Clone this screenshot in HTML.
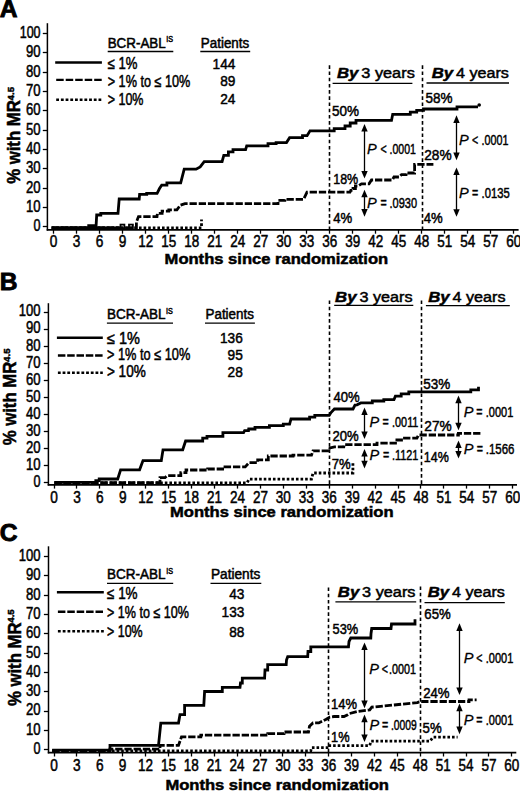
<!DOCTYPE html><html><head><meta charset="utf-8"><style>html,body{margin:0;padding:0;background:#fff;}svg{display:block;}text{font-family:"Liberation Sans",sans-serif;fill:#000;stroke:#000;stroke-width:0.5px;}</style></head><body>
<svg width="520" height="791" viewBox="0 0 520 791">
<rect width="520" height="791" fill="#fff"/>
<text x="-0.30" y="16.90" font-size="24.6" text-anchor="start" font-weight="bold" font-style="normal" style="stroke-width:0.9px">A</text>
<line x1="47.40" y1="23.20" x2="47.40" y2="230.60" stroke="#000" stroke-width="1.5"/>
<line x1="46.70" y1="229.90" x2="518.60" y2="229.90" stroke="#000" stroke-width="1.7"/>
<line x1="42.80" y1="226.50" x2="47.40" y2="226.50" stroke="#000" stroke-width="1.3"/>
<text x="40.60" y="231.25" font-size="16" text-anchor="end" font-weight="normal" font-style="normal" textLength="7.00" lengthAdjust="spacingAndGlyphs">0</text>
<line x1="42.80" y1="207.50" x2="47.40" y2="207.50" stroke="#000" stroke-width="1.3"/>
<text x="40.60" y="211.93" font-size="16" text-anchor="end" font-weight="normal" font-style="normal" textLength="14.60" lengthAdjust="spacingAndGlyphs">10</text>
<line x1="42.80" y1="188.50" x2="47.40" y2="188.50" stroke="#000" stroke-width="1.3"/>
<text x="40.60" y="192.60" font-size="16" text-anchor="end" font-weight="normal" font-style="normal" textLength="14.60" lengthAdjust="spacingAndGlyphs">20</text>
<line x1="42.80" y1="168.50" x2="47.40" y2="168.50" stroke="#000" stroke-width="1.3"/>
<text x="40.60" y="173.28" font-size="16" text-anchor="end" font-weight="normal" font-style="normal" textLength="14.60" lengthAdjust="spacingAndGlyphs">30</text>
<line x1="42.80" y1="149.50" x2="47.40" y2="149.50" stroke="#000" stroke-width="1.3"/>
<text x="40.60" y="153.95" font-size="16" text-anchor="end" font-weight="normal" font-style="normal" textLength="14.60" lengthAdjust="spacingAndGlyphs">40</text>
<line x1="42.80" y1="130.50" x2="47.40" y2="130.50" stroke="#000" stroke-width="1.3"/>
<text x="40.60" y="134.62" font-size="16" text-anchor="end" font-weight="normal" font-style="normal" textLength="14.60" lengthAdjust="spacingAndGlyphs">50</text>
<line x1="42.80" y1="110.50" x2="47.40" y2="110.50" stroke="#000" stroke-width="1.3"/>
<text x="40.60" y="115.30" font-size="16" text-anchor="end" font-weight="normal" font-style="normal" textLength="14.60" lengthAdjust="spacingAndGlyphs">60</text>
<line x1="42.80" y1="91.50" x2="47.40" y2="91.50" stroke="#000" stroke-width="1.3"/>
<text x="40.60" y="95.97" font-size="16" text-anchor="end" font-weight="normal" font-style="normal" textLength="14.60" lengthAdjust="spacingAndGlyphs">70</text>
<line x1="42.80" y1="72.50" x2="47.40" y2="72.50" stroke="#000" stroke-width="1.3"/>
<text x="40.60" y="76.65" font-size="16" text-anchor="end" font-weight="normal" font-style="normal" textLength="14.60" lengthAdjust="spacingAndGlyphs">80</text>
<line x1="42.80" y1="52.50" x2="47.40" y2="52.50" stroke="#000" stroke-width="1.3"/>
<text x="40.60" y="57.32" font-size="16" text-anchor="end" font-weight="normal" font-style="normal" textLength="14.60" lengthAdjust="spacingAndGlyphs">90</text>
<line x1="42.80" y1="33.50" x2="47.40" y2="33.50" stroke="#000" stroke-width="1.3"/>
<text x="40.60" y="38.00" font-size="16" text-anchor="end" font-weight="normal" font-style="normal" textLength="20.90" lengthAdjust="spacingAndGlyphs">100</text>
<line x1="53.50" y1="229.90" x2="53.50" y2="233.70" stroke="#000" stroke-width="1.3"/>
<text x="53.60" y="246.80" font-size="16" text-anchor="middle" font-weight="normal" font-style="normal" textLength="7.60" lengthAdjust="spacingAndGlyphs">0</text>
<line x1="76.50" y1="229.90" x2="76.50" y2="233.70" stroke="#000" stroke-width="1.3"/>
<text x="76.61" y="246.80" font-size="16" text-anchor="middle" font-weight="normal" font-style="normal" textLength="7.60" lengthAdjust="spacingAndGlyphs">3</text>
<line x1="99.50" y1="229.90" x2="99.50" y2="233.70" stroke="#000" stroke-width="1.3"/>
<text x="99.62" y="246.80" font-size="16" text-anchor="middle" font-weight="normal" font-style="normal" textLength="7.60" lengthAdjust="spacingAndGlyphs">6</text>
<line x1="122.50" y1="229.90" x2="122.50" y2="233.70" stroke="#000" stroke-width="1.3"/>
<text x="122.63" y="246.80" font-size="16" text-anchor="middle" font-weight="normal" font-style="normal" textLength="7.60" lengthAdjust="spacingAndGlyphs">9</text>
<line x1="145.50" y1="229.90" x2="145.50" y2="233.70" stroke="#000" stroke-width="1.3"/>
<text x="145.64" y="246.80" font-size="16" text-anchor="middle" font-weight="normal" font-style="normal" textLength="15.00" lengthAdjust="spacingAndGlyphs">12</text>
<line x1="168.50" y1="229.90" x2="168.50" y2="233.70" stroke="#000" stroke-width="1.3"/>
<text x="168.65" y="246.80" font-size="16" text-anchor="middle" font-weight="normal" font-style="normal" textLength="15.00" lengthAdjust="spacingAndGlyphs">15</text>
<line x1="191.50" y1="229.90" x2="191.50" y2="233.70" stroke="#000" stroke-width="1.3"/>
<text x="191.66" y="246.80" font-size="16" text-anchor="middle" font-weight="normal" font-style="normal" textLength="15.00" lengthAdjust="spacingAndGlyphs">18</text>
<line x1="214.50" y1="229.90" x2="214.50" y2="233.70" stroke="#000" stroke-width="1.3"/>
<text x="214.67" y="246.80" font-size="16" text-anchor="middle" font-weight="normal" font-style="normal" textLength="15.00" lengthAdjust="spacingAndGlyphs">21</text>
<line x1="237.50" y1="229.90" x2="237.50" y2="233.70" stroke="#000" stroke-width="1.3"/>
<text x="237.68" y="246.80" font-size="16" text-anchor="middle" font-weight="normal" font-style="normal" textLength="15.00" lengthAdjust="spacingAndGlyphs">24</text>
<line x1="260.50" y1="229.90" x2="260.50" y2="233.70" stroke="#000" stroke-width="1.3"/>
<text x="260.69" y="246.80" font-size="16" text-anchor="middle" font-weight="normal" font-style="normal" textLength="15.00" lengthAdjust="spacingAndGlyphs">27</text>
<line x1="283.50" y1="229.90" x2="283.50" y2="233.70" stroke="#000" stroke-width="1.3"/>
<text x="283.70" y="246.80" font-size="16" text-anchor="middle" font-weight="normal" font-style="normal" textLength="15.00" lengthAdjust="spacingAndGlyphs">30</text>
<line x1="306.50" y1="229.90" x2="306.50" y2="233.70" stroke="#000" stroke-width="1.3"/>
<text x="306.71" y="246.80" font-size="16" text-anchor="middle" font-weight="normal" font-style="normal" textLength="15.00" lengthAdjust="spacingAndGlyphs">33</text>
<line x1="329.50" y1="229.90" x2="329.50" y2="233.70" stroke="#000" stroke-width="1.3"/>
<text x="329.72" y="246.80" font-size="16" text-anchor="middle" font-weight="normal" font-style="normal" textLength="15.00" lengthAdjust="spacingAndGlyphs">36</text>
<line x1="352.50" y1="229.90" x2="352.50" y2="233.70" stroke="#000" stroke-width="1.3"/>
<text x="352.73" y="246.80" font-size="16" text-anchor="middle" font-weight="normal" font-style="normal" textLength="15.00" lengthAdjust="spacingAndGlyphs">39</text>
<line x1="375.50" y1="229.90" x2="375.50" y2="233.70" stroke="#000" stroke-width="1.3"/>
<text x="375.74" y="246.80" font-size="16" text-anchor="middle" font-weight="normal" font-style="normal" textLength="15.00" lengthAdjust="spacingAndGlyphs">42</text>
<line x1="398.50" y1="229.90" x2="398.50" y2="233.70" stroke="#000" stroke-width="1.3"/>
<text x="398.75" y="246.80" font-size="16" text-anchor="middle" font-weight="normal" font-style="normal" textLength="15.00" lengthAdjust="spacingAndGlyphs">45</text>
<line x1="421.50" y1="229.90" x2="421.50" y2="233.70" stroke="#000" stroke-width="1.3"/>
<text x="421.76" y="246.80" font-size="16" text-anchor="middle" font-weight="normal" font-style="normal" textLength="15.00" lengthAdjust="spacingAndGlyphs">48</text>
<line x1="444.50" y1="229.90" x2="444.50" y2="233.70" stroke="#000" stroke-width="1.3"/>
<text x="444.77" y="246.80" font-size="16" text-anchor="middle" font-weight="normal" font-style="normal" textLength="15.00" lengthAdjust="spacingAndGlyphs">51</text>
<line x1="467.50" y1="229.90" x2="467.50" y2="233.70" stroke="#000" stroke-width="1.3"/>
<text x="467.78" y="246.80" font-size="16" text-anchor="middle" font-weight="normal" font-style="normal" textLength="15.00" lengthAdjust="spacingAndGlyphs">54</text>
<line x1="490.50" y1="229.90" x2="490.50" y2="233.70" stroke="#000" stroke-width="1.3"/>
<text x="490.79" y="246.80" font-size="16" text-anchor="middle" font-weight="normal" font-style="normal" textLength="15.00" lengthAdjust="spacingAndGlyphs">57</text>
<line x1="513.50" y1="229.90" x2="513.50" y2="233.70" stroke="#000" stroke-width="1.3"/>
<text x="513.80" y="246.80" font-size="16" text-anchor="middle" font-weight="normal" font-style="normal" textLength="15.00" lengthAdjust="spacingAndGlyphs">60</text>
<text x="164.60" y="263.80" font-size="15" text-anchor="start" font-weight="bold" font-style="normal" textLength="223.60" lengthAdjust="spacingAndGlyphs">Months since randomization</text>
<text transform="translate(19.70,183.80) rotate(-90)" font-size="17.5" font-weight="bold" textLength="83.6" lengthAdjust="spacingAndGlyphs">% with MR</text>
<text transform="translate(13.60,100.40) rotate(-90)" font-size="9.6" font-weight="bold" textLength="13.4" lengthAdjust="spacingAndGlyphs">4.5</text>
<text x="107.70" y="47.60" font-size="13.8" text-anchor="start" font-weight="normal" font-style="normal" textLength="58.00" lengthAdjust="spacingAndGlyphs">BCR-ABL</text>
<text x="166.30" y="42.20" font-size="8.4" text-anchor="start" font-weight="normal" font-style="normal" textLength="6.80" lengthAdjust="spacingAndGlyphs">IS</text>
<line x1="107.70" y1="51.50" x2="173.30" y2="51.50" stroke="#000" stroke-width="1.3"/>
<text x="200.80" y="47.60" font-size="13.8" text-anchor="start" font-weight="normal" font-style="normal" textLength="48.40" lengthAdjust="spacingAndGlyphs">Patients</text>
<line x1="200.30" y1="51.50" x2="250.20" y2="51.50" stroke="#000" stroke-width="1.3"/>
<line x1="55.20" y1="62.50" x2="101.90" y2="62.50" stroke="#000" stroke-width="2.4"/>
<line x1="56.20" y1="79.90" x2="101.90" y2="79.90" stroke="#000" stroke-width="2.4" stroke-dasharray="7.5,2.0"/>
<line x1="56.20" y1="99.70" x2="101.90" y2="99.70" stroke="#000" stroke-width="2.4" stroke-dasharray="2.8,1.9"/>
<text x="107.70" y="69.40" font-size="16" text-anchor="start" font-weight="normal" font-style="normal" textLength="29.80" lengthAdjust="spacingAndGlyphs">≤ 1%</text>
<text x="235.40" y="69.00" font-size="15.3" text-anchor="end" font-weight="normal" font-style="normal" textLength="22.80" lengthAdjust="spacingAndGlyphs">144</text>
<text x="107.70" y="86.70" font-size="16" text-anchor="start" font-weight="normal" font-style="normal" textLength="82.60" lengthAdjust="spacingAndGlyphs">&gt; 1% to ≤ 10%</text>
<text x="235.40" y="86.30" font-size="15.3" text-anchor="end" font-weight="normal" font-style="normal" textLength="15.20" lengthAdjust="spacingAndGlyphs">89</text>
<text x="107.70" y="104.80" font-size="16" text-anchor="start" font-weight="normal" font-style="normal" textLength="35.80" lengthAdjust="spacingAndGlyphs">&gt; 10%</text>
<text x="235.40" y="104.40" font-size="15.3" text-anchor="end" font-weight="normal" font-style="normal" textLength="15.20" lengthAdjust="spacingAndGlyphs">24</text>
<text x="337.00" y="77.90" font-size="15.4" font-weight="bold" font-style="italic" textLength="21.4" lengthAdjust="spacingAndGlyphs">By</text>
<text x="361.30" y="77.90" font-size="15.4" textLength="53.50" lengthAdjust="spacingAndGlyphs">3 years</text>
<line x1="332.60" y1="83.30" x2="412.40" y2="83.30" stroke="#000" stroke-width="1.3"/>
<text x="431.70" y="77.90" font-size="15.4" font-weight="bold" font-style="italic" textLength="21.4" lengthAdjust="spacingAndGlyphs">By</text>
<text x="456.00" y="77.90" font-size="15.4" textLength="52.90" lengthAdjust="spacingAndGlyphs">4 years</text>
<line x1="426.50" y1="83.00" x2="509.00" y2="83.00" stroke="#000" stroke-width="1.3"/>
<line x1="329.50" y1="65.30" x2="329.50" y2="229.90" stroke="#000" stroke-width="1.6" stroke-dasharray="3.6,2.6"/>
<line x1="422.50" y1="65.30" x2="422.50" y2="229.90" stroke="#000" stroke-width="1.6" stroke-dasharray="3.6,2.6"/>
<polyline points="51.6,227.6 88.7,227.6 88.7,225.6 96.1,225.6 96.7,215.0 100.8,215.0 100.8,213.4 118.0,213.4 119.2,199.0 139.2,199.0 139.6,194.4 146.7,194.4 146.7,193.3 157.1,193.3 159.5,188.5 161.7,185.2 166.9,185.2 166.9,182.9 180.7,182.9 184.2,169.2 196.1,169.2 200.2,166.9 204.2,161.7 222.1,161.7 223.8,155.4 228.4,155.4 228.4,151.9 233.0,151.9 233.0,149.7 245.6,149.7 246.7,145.9 268.0,145.9 268.0,143.6 276.1,143.6 276.1,142.6 286.5,142.6 289.6,137.7 302.5,137.7 302.5,135.6 307.1,135.6 310.0,130.8 334.2,130.8 334.2,128.6 345.0,128.6 345.0,126.0 350.2,126.0 350.2,123.0 356.0,123.0 356.0,120.4 391.5,120.4 392.7,114.3 410.3,114.3 410.3,112.2 416.7,112.2 416.7,110.4 423.5,110.4 423.5,109.0 457.0,109.0 457.0,106.8 478.0,106.8" fill="none" stroke="#000" stroke-width="2.8" stroke-linejoin="miter" stroke-linecap="butt"/>
<circle cx="479.2" cy="105.0" r="1.8" fill="#000"/>
<polyline points="88.0,227.8 119.6,227.8" fill="none" stroke="#000" stroke-width="2.8" stroke-linejoin="miter" stroke-linecap="butt"/>
<polyline points="51.6,227.8 119.6,227.8 119.6,227.8 136.4,227.8 136.4,222.0 138.5,216.6 157.0,216.6 157.4,213.3 162.1,213.3 162.1,211.2 168.8,211.2 168.8,209.9 176.9,209.9 180.3,205.2 185.0,203.6 278.0,203.6 278.1,200.4 284.8,200.4 284.8,199.3 303.6,199.3 307.0,192.2 350.0,192.2 350.8,190.3 353.0,190.3 353.0,188.5 355.4,188.5 355.4,186.0 358.0,186.0 361.5,183.8 369.0,183.8 371.5,180.0 392.3,180.0 394.0,177.0 399.0,177.0 401.5,174.6 406.0,174.6 406.0,173.0 414.6,173.0 414.6,164.4 433.4,164.4" fill="none" stroke="#000" stroke-width="2.8" stroke-linejoin="miter" stroke-linecap="butt" stroke-dasharray="7.3,1.9"/>
<rect x="120.5" y="224.6" width="3.9" height="3.6" fill="none" stroke="#000" stroke-width="1.8"/>
<rect x="129.0" y="224.6" width="3.9" height="3.6" fill="none" stroke="#000" stroke-width="1.8"/>
<polyline points="51.6,227.8 201.5,227.8 201.5,219.5" fill="none" stroke="#000" stroke-width="2.8" stroke-linejoin="miter" stroke-linecap="butt" stroke-dasharray="2.6,2.0"/>
<text x="332.00" y="116.40" font-size="15.4" text-anchor="start" font-weight="normal" font-style="normal" textLength="27.00" lengthAdjust="spacingAndGlyphs">50%</text>
<text x="425.60" y="103.00" font-size="15.4" text-anchor="start" font-weight="normal" font-style="normal" textLength="27.00" lengthAdjust="spacingAndGlyphs">58%</text>
<text x="333.20" y="183.80" font-size="15.4" text-anchor="start" font-weight="normal" font-style="normal" textLength="25.00" lengthAdjust="spacingAndGlyphs">18%</text>
<text x="424.20" y="159.90" font-size="15.4" text-anchor="start" font-weight="normal" font-style="normal" textLength="27.40" lengthAdjust="spacingAndGlyphs">28%</text>
<text x="333.20" y="223.10" font-size="15.4" text-anchor="start" font-weight="normal" font-style="normal" textLength="19.00" lengthAdjust="spacingAndGlyphs">4%</text>
<text x="423.80" y="223.10" font-size="15.4" text-anchor="start" font-weight="normal" font-style="normal" textLength="19.00" lengthAdjust="spacingAndGlyphs">4%</text>
<line x1="364.50" y1="130.60" x2="364.50" y2="172.00" stroke="#000" stroke-width="1.3"/>
<polygon points="364.50,124.00 361.30,131.60 367.70,131.60" fill="#000"/>
<polygon points="364.50,178.60 361.30,171.00 367.70,171.00" fill="#000"/>
<line x1="364.50" y1="196.30" x2="364.50" y2="210.10" stroke="#000" stroke-width="1.3"/>
<polygon points="364.50,189.70 361.30,197.30 367.70,197.30" fill="#000"/>
<polygon points="364.50,216.70 361.30,209.10 367.70,209.10" fill="#000"/>
<line x1="456.50" y1="121.90" x2="456.50" y2="153.60" stroke="#000" stroke-width="1.3"/>
<polygon points="456.50,115.30 453.30,122.90 459.70,122.90" fill="#000"/>
<polygon points="456.50,160.20 453.30,152.60 459.70,152.60" fill="#000"/>
<line x1="456.50" y1="174.10" x2="456.50" y2="210.20" stroke="#000" stroke-width="1.3"/>
<polygon points="456.50,167.50 453.30,175.10 459.70,175.10" fill="#000"/>
<polygon points="456.50,216.80 453.30,209.20 459.70,209.20" fill="#000"/>
<text x="-0.30" y="289.60" font-size="24.6" text-anchor="start" font-weight="bold" font-style="normal" style="stroke-width:0.9px">B</text>
<line x1="48.40" y1="303.20" x2="48.40" y2="485.50" stroke="#000" stroke-width="1.5"/>
<line x1="47.70" y1="484.80" x2="517.00" y2="484.80" stroke="#000" stroke-width="1.7"/>
<line x1="43.80" y1="482.50" x2="48.40" y2="482.50" stroke="#000" stroke-width="1.3"/>
<text x="40.60" y="487.10" font-size="16" text-anchor="end" font-weight="normal" font-style="normal" textLength="7.00" lengthAdjust="spacingAndGlyphs">0</text>
<line x1="43.80" y1="465.50" x2="48.40" y2="465.50" stroke="#000" stroke-width="1.3"/>
<text x="40.60" y="470.03" font-size="16" text-anchor="end" font-weight="normal" font-style="normal" textLength="14.60" lengthAdjust="spacingAndGlyphs">10</text>
<line x1="43.80" y1="448.50" x2="48.40" y2="448.50" stroke="#000" stroke-width="1.3"/>
<text x="40.60" y="452.96" font-size="16" text-anchor="end" font-weight="normal" font-style="normal" textLength="14.60" lengthAdjust="spacingAndGlyphs">20</text>
<line x1="43.80" y1="431.50" x2="48.40" y2="431.50" stroke="#000" stroke-width="1.3"/>
<text x="40.60" y="435.89" font-size="16" text-anchor="end" font-weight="normal" font-style="normal" textLength="14.60" lengthAdjust="spacingAndGlyphs">30</text>
<line x1="43.80" y1="414.50" x2="48.40" y2="414.50" stroke="#000" stroke-width="1.3"/>
<text x="40.60" y="418.82" font-size="16" text-anchor="end" font-weight="normal" font-style="normal" textLength="14.60" lengthAdjust="spacingAndGlyphs">40</text>
<line x1="43.80" y1="397.50" x2="48.40" y2="397.50" stroke="#000" stroke-width="1.3"/>
<text x="40.60" y="401.75" font-size="16" text-anchor="end" font-weight="normal" font-style="normal" textLength="14.60" lengthAdjust="spacingAndGlyphs">50</text>
<line x1="43.80" y1="380.50" x2="48.40" y2="380.50" stroke="#000" stroke-width="1.3"/>
<text x="40.60" y="384.68" font-size="16" text-anchor="end" font-weight="normal" font-style="normal" textLength="14.60" lengthAdjust="spacingAndGlyphs">60</text>
<line x1="43.80" y1="363.50" x2="48.40" y2="363.50" stroke="#000" stroke-width="1.3"/>
<text x="40.60" y="367.61" font-size="16" text-anchor="end" font-weight="normal" font-style="normal" textLength="14.60" lengthAdjust="spacingAndGlyphs">70</text>
<line x1="43.80" y1="346.50" x2="48.40" y2="346.50" stroke="#000" stroke-width="1.3"/>
<text x="40.60" y="350.54" font-size="16" text-anchor="end" font-weight="normal" font-style="normal" textLength="14.60" lengthAdjust="spacingAndGlyphs">80</text>
<line x1="43.80" y1="329.50" x2="48.40" y2="329.50" stroke="#000" stroke-width="1.3"/>
<text x="40.60" y="333.47" font-size="16" text-anchor="end" font-weight="normal" font-style="normal" textLength="14.60" lengthAdjust="spacingAndGlyphs">90</text>
<line x1="43.80" y1="312.50" x2="48.40" y2="312.50" stroke="#000" stroke-width="1.3"/>
<text x="40.60" y="316.40" font-size="16" text-anchor="end" font-weight="normal" font-style="normal" textLength="21.80" lengthAdjust="spacingAndGlyphs">100</text>
<line x1="54.50" y1="484.80" x2="54.50" y2="488.60" stroke="#000" stroke-width="1.3"/>
<text x="54.00" y="502.50" font-size="16" text-anchor="middle" font-weight="normal" font-style="normal" textLength="7.60" lengthAdjust="spacingAndGlyphs">0</text>
<line x1="76.50" y1="484.80" x2="76.50" y2="488.60" stroke="#000" stroke-width="1.3"/>
<text x="76.94" y="502.50" font-size="16" text-anchor="middle" font-weight="normal" font-style="normal" textLength="7.60" lengthAdjust="spacingAndGlyphs">3</text>
<line x1="99.50" y1="484.80" x2="99.50" y2="488.60" stroke="#000" stroke-width="1.3"/>
<text x="99.87" y="502.50" font-size="16" text-anchor="middle" font-weight="normal" font-style="normal" textLength="7.60" lengthAdjust="spacingAndGlyphs">6</text>
<line x1="122.50" y1="484.80" x2="122.50" y2="488.60" stroke="#000" stroke-width="1.3"/>
<text x="122.80" y="502.50" font-size="16" text-anchor="middle" font-weight="normal" font-style="normal" textLength="7.60" lengthAdjust="spacingAndGlyphs">9</text>
<line x1="145.50" y1="484.80" x2="145.50" y2="488.60" stroke="#000" stroke-width="1.3"/>
<text x="145.74" y="502.50" font-size="16" text-anchor="middle" font-weight="normal" font-style="normal" textLength="15.00" lengthAdjust="spacingAndGlyphs">12</text>
<line x1="168.50" y1="484.80" x2="168.50" y2="488.60" stroke="#000" stroke-width="1.3"/>
<text x="168.68" y="502.50" font-size="16" text-anchor="middle" font-weight="normal" font-style="normal" textLength="15.00" lengthAdjust="spacingAndGlyphs">15</text>
<line x1="191.50" y1="484.80" x2="191.50" y2="488.60" stroke="#000" stroke-width="1.3"/>
<text x="191.61" y="502.50" font-size="16" text-anchor="middle" font-weight="normal" font-style="normal" textLength="15.00" lengthAdjust="spacingAndGlyphs">18</text>
<line x1="214.50" y1="484.80" x2="214.50" y2="488.60" stroke="#000" stroke-width="1.3"/>
<text x="214.54" y="502.50" font-size="16" text-anchor="middle" font-weight="normal" font-style="normal" textLength="15.00" lengthAdjust="spacingAndGlyphs">21</text>
<line x1="237.50" y1="484.80" x2="237.50" y2="488.60" stroke="#000" stroke-width="1.3"/>
<text x="237.48" y="502.50" font-size="16" text-anchor="middle" font-weight="normal" font-style="normal" textLength="15.00" lengthAdjust="spacingAndGlyphs">24</text>
<line x1="260.50" y1="484.80" x2="260.50" y2="488.60" stroke="#000" stroke-width="1.3"/>
<text x="260.41" y="502.50" font-size="16" text-anchor="middle" font-weight="normal" font-style="normal" textLength="15.00" lengthAdjust="spacingAndGlyphs">27</text>
<line x1="283.50" y1="484.80" x2="283.50" y2="488.60" stroke="#000" stroke-width="1.3"/>
<text x="283.35" y="502.50" font-size="16" text-anchor="middle" font-weight="normal" font-style="normal" textLength="15.00" lengthAdjust="spacingAndGlyphs">30</text>
<line x1="306.50" y1="484.80" x2="306.50" y2="488.60" stroke="#000" stroke-width="1.3"/>
<text x="306.28" y="502.50" font-size="16" text-anchor="middle" font-weight="normal" font-style="normal" textLength="15.00" lengthAdjust="spacingAndGlyphs">33</text>
<line x1="329.50" y1="484.80" x2="329.50" y2="488.60" stroke="#000" stroke-width="1.3"/>
<text x="329.22" y="502.50" font-size="16" text-anchor="middle" font-weight="normal" font-style="normal" textLength="15.00" lengthAdjust="spacingAndGlyphs">36</text>
<line x1="352.50" y1="484.80" x2="352.50" y2="488.60" stroke="#000" stroke-width="1.3"/>
<text x="352.15" y="502.50" font-size="16" text-anchor="middle" font-weight="normal" font-style="normal" textLength="15.00" lengthAdjust="spacingAndGlyphs">39</text>
<line x1="375.50" y1="484.80" x2="375.50" y2="488.60" stroke="#000" stroke-width="1.3"/>
<text x="375.09" y="502.50" font-size="16" text-anchor="middle" font-weight="normal" font-style="normal" textLength="15.00" lengthAdjust="spacingAndGlyphs">42</text>
<line x1="398.50" y1="484.80" x2="398.50" y2="488.60" stroke="#000" stroke-width="1.3"/>
<text x="398.02" y="502.50" font-size="16" text-anchor="middle" font-weight="normal" font-style="normal" textLength="15.00" lengthAdjust="spacingAndGlyphs">45</text>
<line x1="420.50" y1="484.80" x2="420.50" y2="488.60" stroke="#000" stroke-width="1.3"/>
<text x="420.96" y="502.50" font-size="16" text-anchor="middle" font-weight="normal" font-style="normal" textLength="15.00" lengthAdjust="spacingAndGlyphs">48</text>
<line x1="443.50" y1="484.80" x2="443.50" y2="488.60" stroke="#000" stroke-width="1.3"/>
<text x="443.89" y="502.50" font-size="16" text-anchor="middle" font-weight="normal" font-style="normal" textLength="15.00" lengthAdjust="spacingAndGlyphs">51</text>
<line x1="466.50" y1="484.80" x2="466.50" y2="488.60" stroke="#000" stroke-width="1.3"/>
<text x="466.83" y="502.50" font-size="16" text-anchor="middle" font-weight="normal" font-style="normal" textLength="15.00" lengthAdjust="spacingAndGlyphs">54</text>
<line x1="489.50" y1="484.80" x2="489.50" y2="488.60" stroke="#000" stroke-width="1.3"/>
<text x="489.76" y="502.50" font-size="16" text-anchor="middle" font-weight="normal" font-style="normal" textLength="15.00" lengthAdjust="spacingAndGlyphs">57</text>
<line x1="512.50" y1="484.80" x2="512.50" y2="488.60" stroke="#000" stroke-width="1.3"/>
<text x="512.70" y="502.50" font-size="16" text-anchor="middle" font-weight="normal" font-style="normal" textLength="15.00" lengthAdjust="spacingAndGlyphs">60</text>
<text x="170.00" y="516.80" font-size="15" text-anchor="start" font-weight="bold" font-style="normal" textLength="223.60" lengthAdjust="spacingAndGlyphs">Months since randomization</text>
<text transform="translate(15.90,445.30) rotate(-90)" font-size="17.5" font-weight="bold" textLength="83.6" lengthAdjust="spacingAndGlyphs">% with MR</text>
<text transform="translate(9.80,361.90) rotate(-90)" font-size="9.6" font-weight="bold" textLength="13.4" lengthAdjust="spacingAndGlyphs">4.5</text>
<text x="106.90" y="319.30" font-size="13.8" text-anchor="start" font-weight="normal" font-style="normal" textLength="58.50" lengthAdjust="spacingAndGlyphs">BCR-ABL</text>
<text x="166.00" y="313.90" font-size="8.4" text-anchor="start" font-weight="normal" font-style="normal" textLength="6.80" lengthAdjust="spacingAndGlyphs">IS</text>
<line x1="106.90" y1="323.10" x2="173.00" y2="323.10" stroke="#000" stroke-width="1.3"/>
<text x="205.50" y="319.30" font-size="13.8" text-anchor="start" font-weight="normal" font-style="normal" textLength="48.40" lengthAdjust="spacingAndGlyphs">Patients</text>
<line x1="205.00" y1="323.10" x2="254.90" y2="323.10" stroke="#000" stroke-width="1.3"/>
<line x1="56.90" y1="337.70" x2="102.80" y2="337.70" stroke="#000" stroke-width="2.4"/>
<line x1="57.90" y1="355.50" x2="102.80" y2="355.50" stroke="#000" stroke-width="2.4" stroke-dasharray="7.5,1.8"/>
<line x1="57.90" y1="372.80" x2="102.80" y2="372.80" stroke="#000" stroke-width="2.4" stroke-dasharray="2.8,1.9"/>
<text x="106.90" y="343.50" font-size="16" text-anchor="start" font-weight="normal" font-style="normal" textLength="33.00" lengthAdjust="spacingAndGlyphs">≤ 1%</text>
<text x="242.80" y="343.10" font-size="15.3" text-anchor="end" font-weight="normal" font-style="normal" textLength="22.80" lengthAdjust="spacingAndGlyphs">136</text>
<text x="106.90" y="360.40" font-size="16" text-anchor="start" font-weight="normal" font-style="normal" textLength="83.40" lengthAdjust="spacingAndGlyphs">&gt; 1% to ≤ 10%</text>
<text x="242.80" y="360.00" font-size="15.3" text-anchor="end" font-weight="normal" font-style="normal" textLength="15.20" lengthAdjust="spacingAndGlyphs">95</text>
<text x="106.90" y="377.30" font-size="16" text-anchor="start" font-weight="normal" font-style="normal" textLength="38.90" lengthAdjust="spacingAndGlyphs">&gt; 10%</text>
<text x="242.80" y="376.90" font-size="15.3" text-anchor="end" font-weight="normal" font-style="normal" textLength="15.20" lengthAdjust="spacingAndGlyphs">28</text>
<text x="335.10" y="301.60" font-size="15.4" font-weight="bold" font-style="italic" textLength="21.4" lengthAdjust="spacingAndGlyphs">By</text>
<text x="359.40" y="301.60" font-size="15.4" textLength="53.10" lengthAdjust="spacingAndGlyphs">3 years</text>
<line x1="334.20" y1="305.30" x2="413.30" y2="305.30" stroke="#000" stroke-width="1.3"/>
<text x="428.20" y="301.60" font-size="15.4" font-weight="bold" font-style="italic" textLength="21.4" lengthAdjust="spacingAndGlyphs">By</text>
<text x="452.50" y="301.60" font-size="15.4" textLength="53.10" lengthAdjust="spacingAndGlyphs">4 years</text>
<line x1="425.90" y1="305.60" x2="509.80" y2="305.60" stroke="#000" stroke-width="1.3"/>
<line x1="329.50" y1="300.50" x2="329.50" y2="484.60" stroke="#000" stroke-width="1.6" stroke-dasharray="3.6,2.6"/>
<line x1="421.50" y1="300.50" x2="421.50" y2="484.60" stroke="#000" stroke-width="1.6" stroke-dasharray="3.6,2.6"/>
<polyline points="54.4,482.3 95.8,482.3 95.8,480.7 99.2,480.7 99.2,479.0 117.7,479.0 120.6,469.8 139.6,469.8 143.0,460.6 161.3,460.6 163.0,449.8 182.7,449.8 185.6,441.0 202.7,441.0 202.7,438.1 207.0,438.1 207.0,436.3 222.9,436.3 222.9,432.6 243.6,432.6 244.6,430.7 248.5,430.7 248.7,429.0 255.0,429.0 255.0,427.3 269.4,427.3 269.4,425.6 283.3,425.6 283.3,424.2 289.6,424.2 291.0,419.0 309.6,419.0 309.6,417.1 314.8,417.1 314.8,415.4 329.2,415.4 331.0,412.5 334.4,409.0 353.0,409.0 355.0,405.0 357.0,404.8 360.8,402.9 372.3,402.9 372.3,401.0 383.8,401.0 383.8,399.6 394.0,399.6 395.4,396.2 401.2,396.2 401.2,393.8 408.8,393.8 408.8,391.8 470.8,391.8 470.8,389.8 478.5,389.8 478.5,386.8" fill="none" stroke="#000" stroke-width="2.8" stroke-linejoin="miter" stroke-linecap="butt"/>
<polyline points="54.4,482.7 160.0,482.7 160.0,477.7 165.0,477.7 167.0,475.7 180.8,475.7 180.8,472.6 186.0,472.6 186.0,470.0 207.7,470.0 207.7,469.0 225.0,469.0 225.0,466.9 245.2,466.9 249.0,462.7 257.7,462.7 257.7,459.8 268.3,459.8 268.3,456.0 293.0,456.0 293.0,455.2 311.5,455.2 313.0,450.8 329.2,450.8 330.0,448.0 334.6,446.9 343.8,446.9 344.2,444.7 377.0,444.7 377.0,443.1 396.9,443.1 396.9,440.0 401.5,440.0 401.5,438.2 416.9,438.2 418.5,435.0 458.4,435.0 458.4,433.4 481.7,433.4" fill="none" stroke="#000" stroke-width="2.8" stroke-linejoin="miter" stroke-linecap="butt" stroke-dasharray="7.3,1.9"/>
<polyline points="54.4,482.8 247.1,482.8 249.0,479.1 311.5,479.1 313.0,473.0 352.9,473.0 352.9,462.5" fill="none" stroke="#000" stroke-width="2.8" stroke-linejoin="miter" stroke-linecap="butt" stroke-dasharray="2.6,2.0"/>
<text x="333.40" y="402.30" font-size="15.4" text-anchor="start" font-weight="normal" font-style="normal" textLength="26.20" lengthAdjust="spacingAndGlyphs">40%</text>
<text x="423.30" y="389.20" font-size="15.4" text-anchor="start" font-weight="normal" font-style="normal" textLength="27.00" lengthAdjust="spacingAndGlyphs">53%</text>
<text x="332.40" y="440.80" font-size="15.4" text-anchor="start" font-weight="normal" font-style="normal" textLength="26.20" lengthAdjust="spacingAndGlyphs">20%</text>
<text x="424.30" y="430.70" font-size="15.4" text-anchor="start" font-weight="normal" font-style="normal" textLength="27.40" lengthAdjust="spacingAndGlyphs">27%</text>
<text x="331.80" y="469.30" font-size="15.4" text-anchor="start" font-weight="normal" font-style="normal" textLength="19.00" lengthAdjust="spacingAndGlyphs">7%</text>
<text x="423.80" y="461.50" font-size="15.4" text-anchor="start" font-weight="normal" font-style="normal" textLength="25.00" lengthAdjust="spacingAndGlyphs">14%</text>
<line x1="364.50" y1="414.00" x2="364.50" y2="432.50" stroke="#000" stroke-width="1.3"/>
<polygon points="364.50,407.40 361.30,415.00 367.70,415.00" fill="#000"/>
<polygon points="364.50,439.10 361.30,431.50 367.70,431.50" fill="#000"/>
<line x1="364.50" y1="455.60" x2="364.50" y2="461.80" stroke="#000" stroke-width="1.3"/>
<polygon points="364.50,449.00 361.30,456.60 367.70,456.60" fill="#000"/>
<polygon points="364.50,468.40 361.30,460.80 367.70,460.80" fill="#000"/>
<line x1="458.50" y1="402.20" x2="458.50" y2="423.70" stroke="#000" stroke-width="1.3"/>
<polygon points="458.50,395.60 455.30,403.20 461.70,403.20" fill="#000"/>
<polygon points="458.50,430.30 455.30,422.70 461.70,422.70" fill="#000"/>
<line x1="458.50" y1="447.00" x2="458.50" y2="452.00" stroke="#000" stroke-width="1.3"/>
<polygon points="458.50,440.40 455.30,448.00 461.70,448.00" fill="#000"/>
<polygon points="458.50,458.60 455.30,451.00 461.70,451.00" fill="#000"/>
<text x="-0.30" y="540.90" font-size="24.6" text-anchor="start" font-weight="bold" font-style="normal" style="stroke-width:0.9px">C</text>
<line x1="48.50" y1="546.30" x2="48.50" y2="753.40" stroke="#000" stroke-width="1.5"/>
<line x1="47.80" y1="752.70" x2="516.30" y2="752.70" stroke="#000" stroke-width="1.7"/>
<line x1="43.90" y1="749.50" x2="48.50" y2="749.50" stroke="#000" stroke-width="1.3"/>
<text x="40.60" y="754.00" font-size="16" text-anchor="end" font-weight="normal" font-style="normal" textLength="7.00" lengthAdjust="spacingAndGlyphs">0</text>
<line x1="43.90" y1="730.50" x2="48.50" y2="730.50" stroke="#000" stroke-width="1.3"/>
<text x="40.60" y="734.71" font-size="16" text-anchor="end" font-weight="normal" font-style="normal" textLength="14.60" lengthAdjust="spacingAndGlyphs">10</text>
<line x1="43.90" y1="711.50" x2="48.50" y2="711.50" stroke="#000" stroke-width="1.3"/>
<text x="40.60" y="715.42" font-size="16" text-anchor="end" font-weight="normal" font-style="normal" textLength="14.60" lengthAdjust="spacingAndGlyphs">20</text>
<line x1="43.90" y1="691.50" x2="48.50" y2="691.50" stroke="#000" stroke-width="1.3"/>
<text x="40.60" y="696.13" font-size="16" text-anchor="end" font-weight="normal" font-style="normal" textLength="14.60" lengthAdjust="spacingAndGlyphs">30</text>
<line x1="43.90" y1="672.50" x2="48.50" y2="672.50" stroke="#000" stroke-width="1.3"/>
<text x="40.60" y="676.84" font-size="16" text-anchor="end" font-weight="normal" font-style="normal" textLength="14.60" lengthAdjust="spacingAndGlyphs">40</text>
<line x1="43.90" y1="653.50" x2="48.50" y2="653.50" stroke="#000" stroke-width="1.3"/>
<text x="40.60" y="657.55" font-size="16" text-anchor="end" font-weight="normal" font-style="normal" textLength="14.60" lengthAdjust="spacingAndGlyphs">50</text>
<line x1="43.90" y1="633.50" x2="48.50" y2="633.50" stroke="#000" stroke-width="1.3"/>
<text x="40.60" y="638.26" font-size="16" text-anchor="end" font-weight="normal" font-style="normal" textLength="14.60" lengthAdjust="spacingAndGlyphs">60</text>
<line x1="43.90" y1="614.50" x2="48.50" y2="614.50" stroke="#000" stroke-width="1.3"/>
<text x="40.60" y="618.97" font-size="16" text-anchor="end" font-weight="normal" font-style="normal" textLength="14.60" lengthAdjust="spacingAndGlyphs">70</text>
<line x1="43.90" y1="595.50" x2="48.50" y2="595.50" stroke="#000" stroke-width="1.3"/>
<text x="40.60" y="599.68" font-size="16" text-anchor="end" font-weight="normal" font-style="normal" textLength="14.60" lengthAdjust="spacingAndGlyphs">80</text>
<line x1="43.90" y1="575.50" x2="48.50" y2="575.50" stroke="#000" stroke-width="1.3"/>
<text x="40.60" y="580.39" font-size="16" text-anchor="end" font-weight="normal" font-style="normal" textLength="14.60" lengthAdjust="spacingAndGlyphs">90</text>
<line x1="43.90" y1="556.50" x2="48.50" y2="556.50" stroke="#000" stroke-width="1.3"/>
<text x="40.60" y="561.10" font-size="16" text-anchor="end" font-weight="normal" font-style="normal" textLength="21.80" lengthAdjust="spacingAndGlyphs">100</text>
<line x1="54.50" y1="752.70" x2="54.50" y2="756.50" stroke="#000" stroke-width="1.3"/>
<text x="54.00" y="771.30" font-size="16" text-anchor="middle" font-weight="normal" font-style="normal" textLength="7.60" lengthAdjust="spacingAndGlyphs">0</text>
<line x1="76.50" y1="752.70" x2="76.50" y2="756.50" stroke="#000" stroke-width="1.3"/>
<text x="76.89" y="771.30" font-size="16" text-anchor="middle" font-weight="normal" font-style="normal" textLength="7.60" lengthAdjust="spacingAndGlyphs">3</text>
<line x1="99.50" y1="752.70" x2="99.50" y2="756.50" stroke="#000" stroke-width="1.3"/>
<text x="99.78" y="771.30" font-size="16" text-anchor="middle" font-weight="normal" font-style="normal" textLength="7.60" lengthAdjust="spacingAndGlyphs">6</text>
<line x1="122.50" y1="752.70" x2="122.50" y2="756.50" stroke="#000" stroke-width="1.3"/>
<text x="122.67" y="771.30" font-size="16" text-anchor="middle" font-weight="normal" font-style="normal" textLength="7.60" lengthAdjust="spacingAndGlyphs">9</text>
<line x1="145.50" y1="752.70" x2="145.50" y2="756.50" stroke="#000" stroke-width="1.3"/>
<text x="145.56" y="771.30" font-size="16" text-anchor="middle" font-weight="normal" font-style="normal" textLength="15.00" lengthAdjust="spacingAndGlyphs">12</text>
<line x1="168.50" y1="752.70" x2="168.50" y2="756.50" stroke="#000" stroke-width="1.3"/>
<text x="168.45" y="771.30" font-size="16" text-anchor="middle" font-weight="normal" font-style="normal" textLength="15.00" lengthAdjust="spacingAndGlyphs">15</text>
<line x1="191.50" y1="752.70" x2="191.50" y2="756.50" stroke="#000" stroke-width="1.3"/>
<text x="191.34" y="771.30" font-size="16" text-anchor="middle" font-weight="normal" font-style="normal" textLength="15.00" lengthAdjust="spacingAndGlyphs">18</text>
<line x1="214.50" y1="752.70" x2="214.50" y2="756.50" stroke="#000" stroke-width="1.3"/>
<text x="214.23" y="771.30" font-size="16" text-anchor="middle" font-weight="normal" font-style="normal" textLength="15.00" lengthAdjust="spacingAndGlyphs">21</text>
<line x1="237.50" y1="752.70" x2="237.50" y2="756.50" stroke="#000" stroke-width="1.3"/>
<text x="237.12" y="771.30" font-size="16" text-anchor="middle" font-weight="normal" font-style="normal" textLength="15.00" lengthAdjust="spacingAndGlyphs">24</text>
<line x1="260.50" y1="752.70" x2="260.50" y2="756.50" stroke="#000" stroke-width="1.3"/>
<text x="260.01" y="771.30" font-size="16" text-anchor="middle" font-weight="normal" font-style="normal" textLength="15.00" lengthAdjust="spacingAndGlyphs">27</text>
<line x1="282.50" y1="752.70" x2="282.50" y2="756.50" stroke="#000" stroke-width="1.3"/>
<text x="282.90" y="771.30" font-size="16" text-anchor="middle" font-weight="normal" font-style="normal" textLength="15.00" lengthAdjust="spacingAndGlyphs">30</text>
<line x1="305.50" y1="752.70" x2="305.50" y2="756.50" stroke="#000" stroke-width="1.3"/>
<text x="305.79" y="771.30" font-size="16" text-anchor="middle" font-weight="normal" font-style="normal" textLength="15.00" lengthAdjust="spacingAndGlyphs">33</text>
<line x1="328.50" y1="752.70" x2="328.50" y2="756.50" stroke="#000" stroke-width="1.3"/>
<text x="328.68" y="771.30" font-size="16" text-anchor="middle" font-weight="normal" font-style="normal" textLength="15.00" lengthAdjust="spacingAndGlyphs">36</text>
<line x1="351.50" y1="752.70" x2="351.50" y2="756.50" stroke="#000" stroke-width="1.3"/>
<text x="351.57" y="771.30" font-size="16" text-anchor="middle" font-weight="normal" font-style="normal" textLength="15.00" lengthAdjust="spacingAndGlyphs">39</text>
<line x1="374.50" y1="752.70" x2="374.50" y2="756.50" stroke="#000" stroke-width="1.3"/>
<text x="374.46" y="771.30" font-size="16" text-anchor="middle" font-weight="normal" font-style="normal" textLength="15.00" lengthAdjust="spacingAndGlyphs">42</text>
<line x1="397.50" y1="752.70" x2="397.50" y2="756.50" stroke="#000" stroke-width="1.3"/>
<text x="397.35" y="771.30" font-size="16" text-anchor="middle" font-weight="normal" font-style="normal" textLength="15.00" lengthAdjust="spacingAndGlyphs">45</text>
<line x1="420.50" y1="752.70" x2="420.50" y2="756.50" stroke="#000" stroke-width="1.3"/>
<text x="420.24" y="771.30" font-size="16" text-anchor="middle" font-weight="normal" font-style="normal" textLength="15.00" lengthAdjust="spacingAndGlyphs">48</text>
<line x1="443.50" y1="752.70" x2="443.50" y2="756.50" stroke="#000" stroke-width="1.3"/>
<text x="443.13" y="771.30" font-size="16" text-anchor="middle" font-weight="normal" font-style="normal" textLength="15.00" lengthAdjust="spacingAndGlyphs">51</text>
<line x1="466.50" y1="752.70" x2="466.50" y2="756.50" stroke="#000" stroke-width="1.3"/>
<text x="466.02" y="771.30" font-size="16" text-anchor="middle" font-weight="normal" font-style="normal" textLength="15.00" lengthAdjust="spacingAndGlyphs">54</text>
<line x1="488.50" y1="752.70" x2="488.50" y2="756.50" stroke="#000" stroke-width="1.3"/>
<text x="488.91" y="771.30" font-size="16" text-anchor="middle" font-weight="normal" font-style="normal" textLength="15.00" lengthAdjust="spacingAndGlyphs">57</text>
<line x1="511.50" y1="752.70" x2="511.50" y2="756.50" stroke="#000" stroke-width="1.3"/>
<text x="511.80" y="771.30" font-size="16" text-anchor="middle" font-weight="normal" font-style="normal" textLength="15.00" lengthAdjust="spacingAndGlyphs">60</text>
<text x="165.40" y="789.60" font-size="15" text-anchor="start" font-weight="bold" font-style="normal" textLength="223.60" lengthAdjust="spacingAndGlyphs">Months since randomization</text>
<text transform="translate(20.50,706.10) rotate(-90)" font-size="17.5" font-weight="bold" textLength="83.6" lengthAdjust="spacingAndGlyphs">% with MR</text>
<text transform="translate(14.40,622.70) rotate(-90)" font-size="9.6" font-weight="bold" textLength="13.4" lengthAdjust="spacingAndGlyphs">4.5</text>
<text x="107.00" y="579.00" font-size="13.8" text-anchor="start" font-weight="normal" font-style="normal" textLength="58.60" lengthAdjust="spacingAndGlyphs">BCR-ABL</text>
<text x="166.20" y="573.60" font-size="8.4" text-anchor="start" font-weight="normal" font-style="normal" textLength="6.80" lengthAdjust="spacingAndGlyphs">IS</text>
<line x1="107.00" y1="583.40" x2="173.20" y2="583.40" stroke="#000" stroke-width="1.3"/>
<text x="211.00" y="579.00" font-size="13.8" text-anchor="start" font-weight="normal" font-style="normal" textLength="49.30" lengthAdjust="spacingAndGlyphs">Patients</text>
<line x1="210.50" y1="583.40" x2="261.30" y2="583.40" stroke="#000" stroke-width="1.3"/>
<line x1="56.90" y1="592.30" x2="103.80" y2="592.30" stroke="#000" stroke-width="2.4"/>
<line x1="57.90" y1="611.80" x2="103.80" y2="611.80" stroke="#000" stroke-width="2.4" stroke-dasharray="7.5,1.9"/>
<line x1="57.90" y1="631.20" x2="103.80" y2="631.20" stroke="#000" stroke-width="2.4" stroke-dasharray="2.8,2.0"/>
<text x="107.00" y="599.00" font-size="16" text-anchor="start" font-weight="normal" font-style="normal" textLength="30.60" lengthAdjust="spacingAndGlyphs">≤ 1%</text>
<text x="244.40" y="598.60" font-size="15.3" text-anchor="end" font-weight="normal" font-style="normal" textLength="15.20" lengthAdjust="spacingAndGlyphs">43</text>
<text x="107.00" y="617.60" font-size="16" text-anchor="start" font-weight="normal" font-style="normal" textLength="82.00" lengthAdjust="spacingAndGlyphs">&gt; 1% to ≤ 10%</text>
<text x="244.40" y="617.20" font-size="15.3" text-anchor="end" font-weight="normal" font-style="normal" textLength="22.80" lengthAdjust="spacingAndGlyphs">133</text>
<text x="107.00" y="637.00" font-size="16" text-anchor="start" font-weight="normal" font-style="normal" textLength="35.60" lengthAdjust="spacingAndGlyphs">&gt; 10%</text>
<text x="244.40" y="636.60" font-size="15.3" text-anchor="end" font-weight="normal" font-style="normal" textLength="15.20" lengthAdjust="spacingAndGlyphs">88</text>
<text x="337.80" y="596.60" font-size="15.4" font-weight="bold" font-style="italic" textLength="21.4" lengthAdjust="spacingAndGlyphs">By</text>
<text x="362.10" y="596.60" font-size="15.4" textLength="53.40" lengthAdjust="spacingAndGlyphs">3 years</text>
<line x1="335.40" y1="601.90" x2="416.20" y2="601.90" stroke="#000" stroke-width="1.3"/>
<text x="427.70" y="597.00" font-size="15.4" font-weight="bold" font-style="italic" textLength="21.4" lengthAdjust="spacingAndGlyphs">By</text>
<text x="452.00" y="597.00" font-size="15.4" textLength="52.90" lengthAdjust="spacingAndGlyphs">4 years</text>
<line x1="424.50" y1="602.70" x2="504.80" y2="602.70" stroke="#000" stroke-width="1.3"/>
<line x1="328.50" y1="587.50" x2="328.50" y2="752.50" stroke="#000" stroke-width="1.6" stroke-dasharray="3.6,2.6"/>
<line x1="420.50" y1="586.50" x2="420.50" y2="752.50" stroke="#000" stroke-width="1.6" stroke-dasharray="3.6,2.6"/>
<polyline points="52.2,750.2 110.0,750.2 110.0,745.4 158.5,745.4 160.8,723.1 178.5,723.1 180.0,714.6 184.6,714.6 184.6,705.4 203.8,705.4 204.6,691.5 222.3,691.5 222.3,687.4 240.0,687.4 240.5,683.0 242.3,683.0 242.3,678.2 264.6,678.2 265.0,670.0 267.7,670.0 267.7,664.6 286.2,664.6 286.5,660.0 287.7,656.7 307.7,656.7 308.0,651.5 310.8,651.5 310.8,646.9 348.5,646.9 349.0,641.5 350.8,638.0 370.8,638.0 371.0,633.7 371.7,628.5 391.0,628.5 391.5,624.0 415.0,624.0 415.0,619.2" fill="none" stroke="#000" stroke-width="2.8" stroke-linejoin="miter" stroke-linecap="butt"/>
<polyline points="52.2,750.6 110.0,750.6 110.0,749.2 160.0,749.2 160.0,745.4 178.5,745.4 181.5,736.9 200.8,736.9 200.8,735.2 267.8,735.2 267.8,733.7 284.0,733.7 284.0,732.0 308.5,732.0 309.5,726.3 313.0,722.9 318.8,722.9 325.8,719.4 329.8,717.1 334.0,716.5 344.0,716.5 347.7,714.8 349.6,713.5 358.0,711.4 369.7,709.9 371.8,707.2 394.0,705.0 417.3,702.6 420.5,701.5 469.0,701.5 469.0,699.8 476.6,699.8" fill="none" stroke="#000" stroke-width="2.8" stroke-linejoin="miter" stroke-linecap="butt" stroke-dasharray="7.3,1.9"/>
<polyline points="52.2,750.8 310.8,750.8 311.5,747.7 329.5,747.7 329.8,745.6 369.7,745.6 371.0,741.2 430.0,741.2 433.0,737.2 457.6,737.2" fill="none" stroke="#000" stroke-width="2.8" stroke-linejoin="miter" stroke-linecap="butt" stroke-dasharray="2.6,2.0"/>
<text x="332.60" y="633.80" font-size="15.4" text-anchor="start" font-weight="normal" font-style="normal" textLength="25.60" lengthAdjust="spacingAndGlyphs">53%</text>
<text x="424.30" y="618.80" font-size="15.4" text-anchor="start" font-weight="normal" font-style="normal" textLength="26.40" lengthAdjust="spacingAndGlyphs">65%</text>
<text x="331.10" y="709.30" font-size="15.4" text-anchor="start" font-weight="normal" font-style="normal" textLength="25.90" lengthAdjust="spacingAndGlyphs">14%</text>
<text x="423.20" y="698.30" font-size="15.4" text-anchor="start" font-weight="normal" font-style="normal" textLength="26.40" lengthAdjust="spacingAndGlyphs">24%</text>
<text x="331.10" y="741.70" font-size="15.4" text-anchor="start" font-weight="normal" font-style="normal" textLength="18.50" lengthAdjust="spacingAndGlyphs">1%</text>
<text x="422.60" y="733.20" font-size="15.4" text-anchor="start" font-weight="normal" font-style="normal" textLength="19.10" lengthAdjust="spacingAndGlyphs">5%</text>
<line x1="364.50" y1="649.10" x2="364.50" y2="701.60" stroke="#000" stroke-width="1.3"/>
<polygon points="364.50,642.50 361.30,650.10 367.70,650.10" fill="#000"/>
<polygon points="364.50,708.20 361.30,700.60 367.70,700.60" fill="#000"/>
<line x1="364.50" y1="721.20" x2="364.50" y2="735.40" stroke="#000" stroke-width="1.3"/>
<polygon points="364.50,714.60 361.30,722.20 367.70,722.20" fill="#000"/>
<polygon points="364.50,742.00 361.30,734.40 367.70,734.40" fill="#000"/>
<line x1="459.50" y1="629.90" x2="459.50" y2="688.50" stroke="#000" stroke-width="1.3"/>
<polygon points="459.50,623.30 456.30,630.90 462.70,630.90" fill="#000"/>
<polygon points="459.50,695.10 456.30,687.50 462.70,687.50" fill="#000"/>
<line x1="459.50" y1="710.20" x2="459.50" y2="727.60" stroke="#000" stroke-width="1.3"/>
<polygon points="459.50,703.60 456.30,711.20 462.70,711.20" fill="#000"/>
<polygon points="459.50,734.20 456.30,726.60 462.70,726.60" fill="#000"/>
<text x="366.90" y="154.20" font-size="14.9" font-style="italic" textLength="9.7" lengthAdjust="spacingAndGlyphs" style="stroke-width:0.3px">P</text>
<text x="380.60" y="154.20" font-size="14.9" textLength="6.2" lengthAdjust="spacingAndGlyphs">&lt;</text>
<text x="389.50" y="154.20" font-size="14.9" textLength="26.40" lengthAdjust="spacingAndGlyphs">.0001</text>
<text x="366.90" y="207.50" font-size="14.9" font-style="italic" textLength="9.7" lengthAdjust="spacingAndGlyphs" style="stroke-width:0.3px">P</text>
<text x="380.60" y="207.50" font-size="14.9" textLength="6.2" lengthAdjust="spacingAndGlyphs">=</text>
<text x="389.50" y="207.50" font-size="14.9" textLength="27.50" lengthAdjust="spacingAndGlyphs">.0930</text>
<text x="459.00" y="145.00" font-size="14.9" font-style="italic" textLength="9.7" lengthAdjust="spacingAndGlyphs" style="stroke-width:0.3px">P</text>
<text x="472.10" y="145.00" font-size="14.9" textLength="6.2" lengthAdjust="spacingAndGlyphs">&lt;</text>
<text x="481.60" y="145.00" font-size="14.9" textLength="26.90" lengthAdjust="spacingAndGlyphs">.0001</text>
<text x="459.00" y="197.50" font-size="14.9" font-style="italic" textLength="9.7" lengthAdjust="spacingAndGlyphs" style="stroke-width:0.3px">P</text>
<text x="472.10" y="197.50" font-size="14.9" textLength="6.2" lengthAdjust="spacingAndGlyphs">=</text>
<text x="481.60" y="197.50" font-size="14.9" textLength="28.10" lengthAdjust="spacingAndGlyphs">.0135</text>
<text x="369.50" y="427.00" font-size="14.9" font-style="italic" textLength="9.7" lengthAdjust="spacingAndGlyphs" style="stroke-width:0.3px">P</text>
<text x="382.60" y="427.00" font-size="14.9" textLength="6.2" lengthAdjust="spacingAndGlyphs">=</text>
<text x="392.10" y="427.00" font-size="14.9" textLength="26.30" lengthAdjust="spacingAndGlyphs">.0011</text>
<text x="369.50" y="460.20" font-size="14.9" font-style="italic" textLength="9.7" lengthAdjust="spacingAndGlyphs" style="stroke-width:0.3px">P</text>
<text x="383.10" y="460.20" font-size="14.9" textLength="6.2" lengthAdjust="spacingAndGlyphs">=</text>
<text x="392.10" y="460.20" font-size="14.9" textLength="26.30" lengthAdjust="spacingAndGlyphs">.1121</text>
<text x="463.70" y="416.60" font-size="14.9" font-style="italic" textLength="9.7" lengthAdjust="spacingAndGlyphs" style="stroke-width:0.3px">P</text>
<text x="476.30" y="416.60" font-size="14.9" textLength="6.2" lengthAdjust="spacingAndGlyphs">=</text>
<text x="485.80" y="416.60" font-size="14.9" textLength="27.50" lengthAdjust="spacingAndGlyphs">.0001</text>
<text x="463.70" y="454.40" font-size="14.9" font-style="italic" textLength="9.7" lengthAdjust="spacingAndGlyphs" style="stroke-width:0.3px">P</text>
<text x="476.80" y="454.40" font-size="14.9" textLength="6.2" lengthAdjust="spacingAndGlyphs">=</text>
<text x="485.80" y="454.40" font-size="14.9" textLength="28.70" lengthAdjust="spacingAndGlyphs">.1566</text>
<text x="369.20" y="674.40" font-size="14.9" font-style="italic" textLength="9.7" lengthAdjust="spacingAndGlyphs" style="stroke-width:0.3px">P</text>
<text x="381.70" y="674.40" font-size="14.9" textLength="6.2" lengthAdjust="spacingAndGlyphs">&lt;</text>
<text x="388.90" y="674.40" font-size="14.9" textLength="27.00" lengthAdjust="spacingAndGlyphs">.0001</text>
<text x="369.50" y="730.00" font-size="14.9" font-style="italic" textLength="9.7" lengthAdjust="spacingAndGlyphs" style="stroke-width:0.3px">P</text>
<text x="382.00" y="730.00" font-size="14.9" textLength="6.2" lengthAdjust="spacingAndGlyphs">=</text>
<text x="390.90" y="730.00" font-size="14.9" textLength="25.80" lengthAdjust="spacingAndGlyphs">.0009</text>
<text x="463.70" y="663.00" font-size="14.9" font-style="italic" textLength="9.7" lengthAdjust="spacingAndGlyphs" style="stroke-width:0.3px">P</text>
<text x="476.30" y="663.00" font-size="14.9" textLength="6.2" lengthAdjust="spacingAndGlyphs">&lt;</text>
<text x="485.80" y="663.00" font-size="14.9" textLength="27.50" lengthAdjust="spacingAndGlyphs">.0001</text>
<text x="463.70" y="725.00" font-size="14.9" font-style="italic" textLength="9.7" lengthAdjust="spacingAndGlyphs" style="stroke-width:0.3px">P</text>
<text x="476.30" y="725.00" font-size="14.9" textLength="6.2" lengthAdjust="spacingAndGlyphs">=</text>
<text x="485.80" y="725.00" font-size="14.9" textLength="27.50" lengthAdjust="spacingAndGlyphs">.0001</text>
</svg></body></html>
